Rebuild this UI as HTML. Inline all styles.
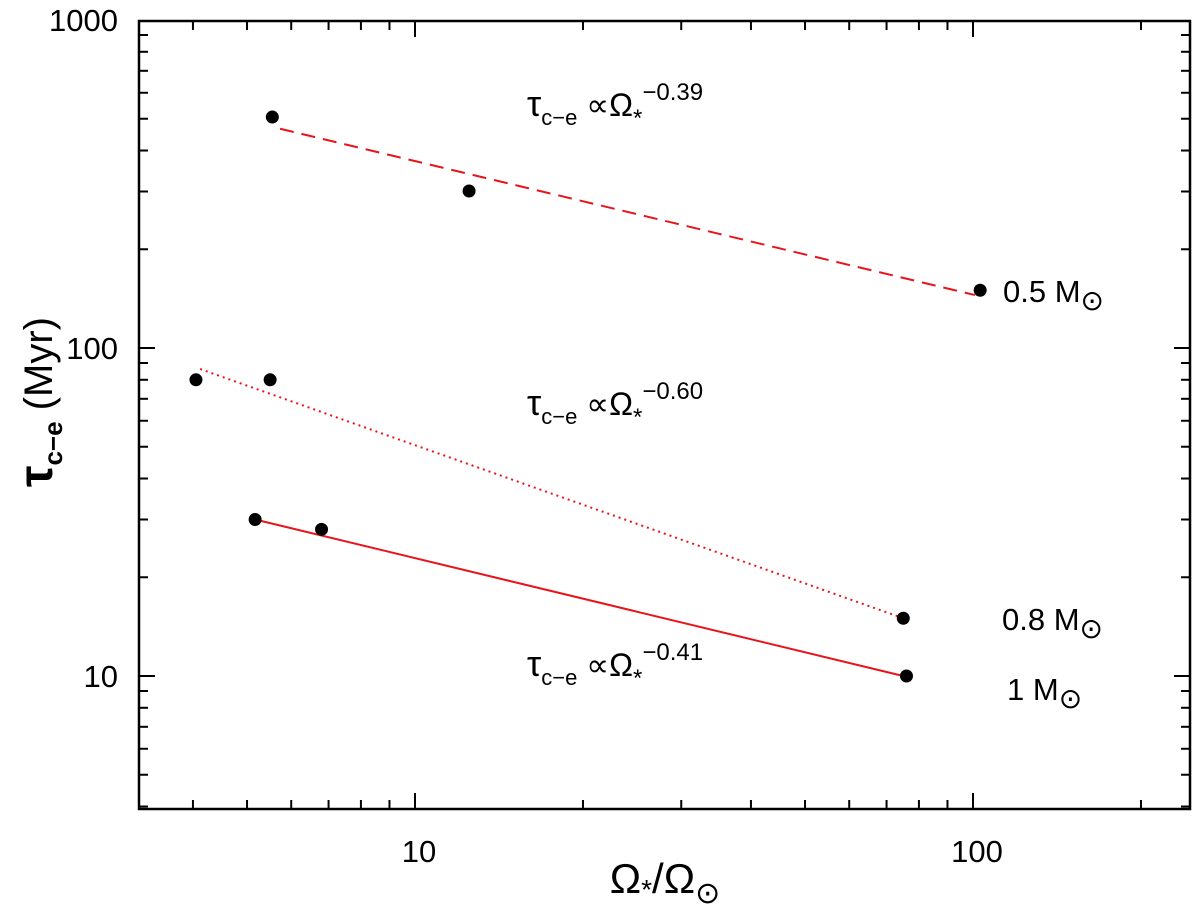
<!DOCTYPE html>
<html><head><meta charset="utf-8"><style>
body{margin:0;background:#fff;}
svg{display:block;font-family:"Liberation Sans","DejaVu Sans",sans-serif;}
</style></head><body>
<svg id="chart" width="1200" height="910" viewBox="0 0 1200 910" xmlns="http://www.w3.org/2000/svg">
<rect x="0" y="0" width="1200" height="910" fill="#fff"/>
<g id="plot"></g>
<text x="665" y="893" font-size="42" text-anchor="middle">Ω<tspan font-size="28" dy="6">*</tspan><tspan dy="-6">/Ω</tspan><tspan font-size="30" dy="10">⊙</tspan></text>
<g transform="translate(52,402) rotate(-90)">
<text x="0" y="0" font-size="40" text-anchor="middle"><tspan font-weight="bold" font-size="48">τ</tspan><tspan font-size="26" dy="10" font-weight="bold">c−e</tspan><tspan dy="-10">  (Myr)</tspan></text>
</g>
</svg>
<script>
const xTicksMajor = [10, 100];
const yTicksMajor = [10, 100, 1000];
const xTickLabels = ["10", "100"];
const yTickLabels = ["10", "100", "1000"];
const ptsX05 = [5.55, 12.5, 103];
const ptsY05 = [506, 301, 150];
const ptsX08 = [4.05, 5.5, 75];
const ptsY08 = [80, 80, 15];
const ptsX10 = [5.17, 6.8, 76];
const ptsY10 = [30, 28, 10];
const fitX05 = [5.73, 100.8];
const fitY05 = [466, 145];
const fitX08 = [4.12, 75];
const fitY08 = [86.3, 15];
const fitX10 = [5.17, 75];
const fitY10 = [30, 10];

const L=139,R=1190,T=21,B=809;
const XD=558, YD=328;
function sx(v){return 415+(Math.log10(v)-1)*XD;}
function sy(v){return 348-(Math.log10(v)-2)*YD;}
const NS="http://www.w3.org/2000/svg";
const g=document.getElementById('plot');
function mk(tag,attrs,parent){const e=document.createElementNS(NS,tag);for(const k in attrs)e.setAttribute(k,attrs[k]);(parent||g).appendChild(e);return e;}

const frame=mk('rect',{x:L,y:T,width:R-L,height:B-T,fill:'none',stroke:'#000','stroke-width':2.5});



for(let d=1;d<=100;d*=10){for(let m=1;m<=9;m++){const v=m*d;const x=sx(v);if(x<L+1||x>R-1)continue;const len=(m===1)?16:9;
const t1=mk('line',{x1:x,y1:B,x2:x,y2:B-len,stroke:'#000','stroke-width':2});


const t2=mk('line',{x1:x,y1:T,x2:x,y2:T+len,stroke:'#000','stroke-width':2});

}}
for(let d=1;d<=1000;d*=10){for(let m=1;m<=9;m++){const v=m*d;const y=sy(v);if(y<T+1||y>B-1)continue;const len=(m===1)?16:9;
const t1=mk('line',{x1:L,y1:y,x2:L+len,y2:y,stroke:'#000','stroke-width':2});


const t2=mk('line',{x1:R,y1:y,x2:R-len,y2:y,stroke:'#000','stroke-width':2});

}}
xTicksMajor.forEach((v,i)=>{const t=mk('text',{x:sx(v)+4,y:862,'font-size':31,'text-anchor':'middle'});t.textContent=xTickLabels[i];

});
yTicksMajor.forEach((v,i)=>{const t=mk('text',{x:118,y:sy(v)+11,'font-size':31,'text-anchor':'end'});t.textContent=yTickLabels[i];

});

function fit(xs,ys,dash,name){const l=mk('line',{x1:sx(xs[0]),y1:sy(ys[0]),x2:sx(xs[1]),y2:sy(ys[1]),stroke:'#e8141b','stroke-width':2,'stroke-dasharray':dash});

}
fit(fitX05,fitY05,'14 8','fit-line-0.5msun');
fit(fitX08,fitY08,'2 4','fit-line-0.8msun');
fit(fitX10,fitY10,'none','fit-line-1msun');

function pts(xs,ys,name){xs.forEach((v,i)=>{const c=mk('circle',{cx:sx(v),cy:sy(ys[i]),r:6.5,fill:'#000'});

});}
pts(ptsX05,ptsY05,'point-0.5msun');
pts(ptsX08,ptsY08,'point-0.8msun');
pts(ptsX10,ptsY10,'point-1msun');

function ann(x,y,exp,name){const t=mk('text',{x:x,y:y,'font-size':32});
t.innerHTML='<tspan font-size="36">τ</tspan><tspan font-size="22" dy="9">c−e</tspan><tspan dy="-9">  ∝Ω</tspan><tspan font-size="24" dy="10">*</tspan><tspan font-size="24" dy="-26">'+exp+'</tspan>';

}
ann(527,116,'−0.39','annotation-0.5msun');
ann(527,415,'−0.60','annotation-0.8msun');
ann(527,676,'−0.41','annotation-1msun');

function lab(x,y,txt,name){const t=mk('text',{x:x,y:y,'font-size':31});
t.innerHTML=txt+' M<tspan font-size="28" dy="8">⊙</tspan>';

}
lab(1003,302,'0.5','label-0.5msun');
lab(1002,630,'0.8','label-0.8msun');
lab(1007,700,'1','label-1msun');
</script>
</body></html>
